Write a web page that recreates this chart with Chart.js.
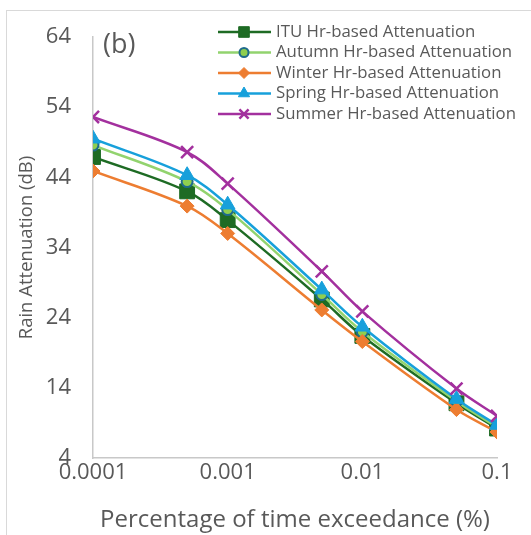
<!DOCTYPE html>
<html>
<head>
<meta charset="utf-8">
<script src="https://cdn.jsdelivr.net/npm/chart.js@4.4.1/dist/chart.umd.min.js"></script>
<style>
  html, body { margin: 0; padding: 0; background: #fff; }
  #wrap { position: relative; width: 531px; height: 535px; overflow: hidden; }
  #frame { position: absolute; left: 6px; top: 10px; width: 700px; height: 700px; border: 1px solid #d9d9d9; box-sizing: border-box; }
  canvas { position: absolute; left: 0; top: 0; }
</style>
</head>
<body>
<div id="wrap">
  <div id="frame"></div>
  <canvas id="c" width="531" height="535"></canvas>
</div>
<script>
const xValues = [0.0001, 0.0005, 0.001, 0.005, 0.01, 0.05, 0.1];
const xTickLabels = [0.0001, 0.001, 0.01, 0.1];
const yTicks = [4, 14, 24, 34, 44, 54, 64];
const seriesNames = ["ITU Hr-based Attenuation", "Autumn Hr-based Attenuation", "Winter Hr-based Attenuation", "Spring Hr-based Attenuation", "Summer Hr-based Attenuation"];
const ituValues    = [46.9, 42.0, 37.9, 26.6, 21.4, 11.8, 8.2];
const autumnValues = [48.6, 43.4, 39.4, 27.3, 22.0, 12.1, 8.4];
const winterValues = [44.9, 39.9, 36.0, 25.1, 20.6, 10.9, 7.7];
const springValues = [49.5, 44.3, 40.1, 28.0, 22.7, 12.4, 8.7];
const summerValues = [52.6, 47.6, 43.1, 30.6, 24.9, 13.9, 10.0];

const FONT = "Open Sans";
const GREY = "#595959";

function pts(vals) { return xValues.map((x, i) => ({x: x, y: vals[i]})); }

const styles = [
  {color: "#1e6b24", pointStyle: "rect", r: 10.5, lr: 7.5, bg: "#1e6b24", bd: "#1e6b24", order: 4, bw: 1},
  {color: "#92d36e", pointStyle: "circle", r: 5.5, lr: 4.5, bg: "#8fcf4f", bd: "#1f6b8c", order: 3, bw: 2},
  {color: "#ed7d31", pointStyle: "rectRot", r: 7, lr: 5.5, bg: "#ed7d31", bd: "#ed7d31", order: 2, bw: 1},
  {color: "#17a0db", pointStyle: "triangle", r: 8.5, lr: 6.5, bg: "#17a0db", bd: "#17a0db", order: 1, bw: 1},
  {color: "#a3309e", pointStyle: "crossRot", r: 8.5, lr: 6.5, bg: "#a3309e", bd: "#a3309e", order: 0, bw: 2.5}
];
const allValues = [ituValues, autumnValues, winterValues, springValues, summerValues];

const datasets = seriesNames.map((name, i) => ({
  label: name,
  data: pts(allValues[i]),
  borderColor: styles[i].color,
  backgroundColor: styles[i].bg,
  borderWidth: 2.5,
  pointStyle: styles[i].pointStyle,
  pointRadius: styles[i].r,
  pointBackgroundColor: styles[i].bg,
  pointBorderColor: styles[i].bd,
  pointBorderWidth: styles[i].bw,
  tension: 0.35,
  order: styles[i].order,
  fill: false
}));

const legendPlugin = {
  id: "customLegend",
  afterDraw(chart) {
    const ctx = chart.ctx;
    ctx.save();
    const x0 = 218, x1 = 271, mx = 244, tx = 276;
    const ys = [32, 52.5, 73, 93.5, 114];
    chart.data.datasets.forEach((ds, i) => {
      const y = ys[i];
      ctx.strokeStyle = ds.borderColor;
      ctx.lineWidth = 2.5;
      ctx.beginPath(); ctx.moveTo(x0, y); ctx.lineTo(x1, y); ctx.stroke();
      ctx.fillStyle = ds.pointBackgroundColor;
      ctx.strokeStyle = ds.pointBorderColor;
      ctx.lineWidth = ds.pointBorderWidth;
      Chart.helpers.drawPoint(ctx, {pointStyle: ds.pointStyle, rotation: 0, radius: styles[i].lr, borderWidth: ds.pointBorderWidth}, mx, y);
      ctx.fillStyle = GREY;
      ctx.font = "16.8px '" + FONT + "'";
      ctx.textBaseline = "middle";
      ctx.textAlign = "left";
      ctx.fillText(ds.label, tx, y);
    });
    ctx.font = "27px '" + FONT + "'";
    ctx.fillStyle = GREY;
    ctx.textBaseline = "middle";
    ctx.textAlign = "left";
    ctx.fillText("(b)", 103, 45);
    ctx.restore();
  }
};

new Chart(document.getElementById("c"), {
  type: "line",
  data: { datasets: datasets },
  plugins: [legendPlugin],
  options: {
    responsive: false,
    animation: false,
    layout: { padding: { left: 0, right: 34, top: 37, bottom: 0 } },
    plugins: { legend: { display: false }, tooltip: { enabled: false } },
    scales: {
      x: {
        type: "logarithmic",
        min: 0.0001,
        max: 0.1,
        afterBuildTicks(scale) { scale.ticks = xTickLabels.map(v => ({value: v})); },
        afterFit(scale) { scale.height = 77; },
        ticks: {
          color: GREY,
          font: { family: FONT, size: 22 },
          padding: 2,
          maxRotation: 0,
          autoSkip: false,
          callback: (v) => String(v)
        },
        grid: { display: false, drawTicks: false },
        border: { display: true, color: "#c8c8c8", width: 1.5 },
        title: { display: true, text: "Percentage of time exceedance (%)", color: GREY, font: { family: FONT, size: 24 }, padding: { top: 0, bottom: 0 } }
      },
      y: {
        min: 4,
        max: 64,
        afterBuildTicks(scale) { scale.ticks = yTicks.map(v => ({value: v})); },
        afterFit(scale) { scale.width = 93; },
        ticks: { color: GREY, font: { family: FONT, size: 22 }, padding: 22 },
        grid: { display: false, drawTicks: false },
        border: { display: true, color: "#c8c8c8", width: 1.5 },
        title: { display: true, text: "Rain Attenuation (dB)", color: GREY, font: { family: FONT, size: 18.5 }, padding: { top: 16, bottom: 0 } }
      }
    }
  }
});
</script>
</body>
</html>
